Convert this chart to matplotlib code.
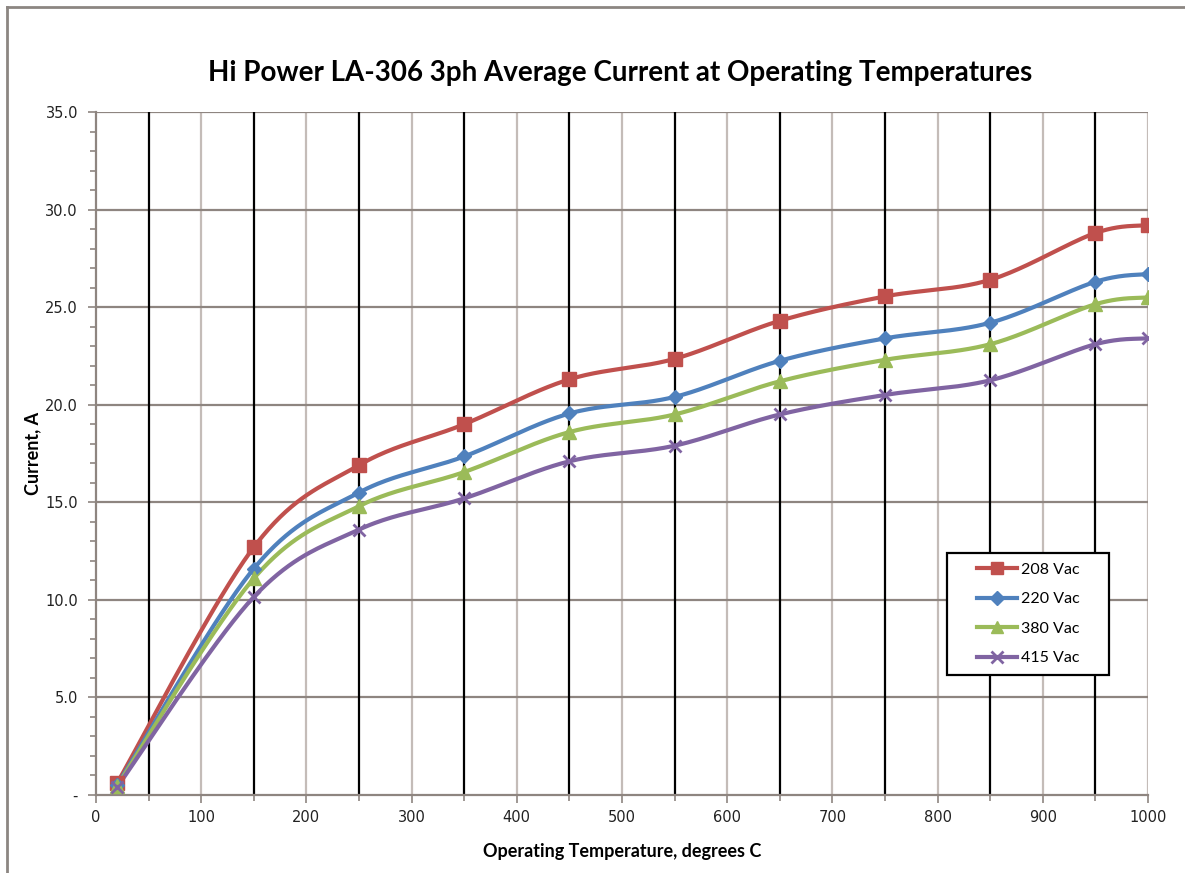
import numpy as np
import matplotlib
matplotlib.use("Agg")
import matplotlib.pyplot as plt
from matplotlib.lines import Line2D
from matplotlib.patches import Rectangle
from matplotlib.ticker import MultipleLocator, FuncFormatter

# Data
temps = [20, 150, 250, 350, 450, 550, 650, 750, 850, 950, 1000]
vac_208 = [0.6, 12.7, 16.9, 19.0, 21.3, 22.35, 24.3, 25.55, 26.4, 28.8, 29.2]
vac_220 = [0.5, 11.6, 15.5, 17.35, 19.55, 20.4, 22.25, 23.4, 24.2, 26.3, 26.7]
vac_380 = [0.45, 11.1, 14.8, 16.55, 18.6, 19.5, 21.2, 22.3, 23.1, 25.15, 25.5]
vac_415 = [0.4, 10.15, 13.6, 15.2, 17.1, 17.9, 19.5, 20.5, 21.25, 23.1, 23.4]
labels = ["208 Vac", "220 Vac", "380 Vac", "415 Vac"]
black_lines = [50, 150, 250, 350, 450, 550, 650, 750, 850, 950]


def smooth(xs, ys, n=40):
    # Excel-style smoothed line: Catmull-Rom as cubic Bezier segments
    p = np.column_stack([xs, ys]).astype(float)
    p = np.vstack([p[0], p, p[-1]])
    out = []
    t = np.linspace(0, 1, n)[:, None]
    for i in range(1, len(p) - 2):
        p0, p3 = p[i], p[i + 1]
        p1 = p0 + (p[i + 1] - p[i - 1]) / 6
        p2 = p3 - (p[i + 2] - p[i]) / 6
        seg = ((1 - t) ** 3) * p0 + 3 * ((1 - t) ** 2) * t * p1 + 3 * (1 - t) * t ** 2 * p2 + t ** 3 * p3
        out.append(seg)
    out = np.vstack(out)
    return out[:, 0], out[:, 1]


W, H = 1185, 873
fig = plt.figure(figsize=(W / 100, H / 100), dpi=100)
ax = fig.add_axes([96 / W, 1 - 795 / H, (1148 - 96) / W, (795 - 112) / H])

# outer chart border (top and left visible)
fig.add_artist(Line2D([7 / W, 7 / W], [0, 1 - 7 / H], color="#8c8682", lw=2.0))
fig.add_artist(Line2D([7 / W, 1], [1 - 7 / H, 1 - 7 / H], color="#8c8682", lw=2.0))

ax.set_xlim(0, 1000)
ax.set_ylim(0, 35)

for v in range(100, 1001, 100):
    ax.axvline(v, color="#c4bcb8", lw=1.6, zorder=1)
for v in range(5, 36, 5):
    ax.axhline(v, color="#8e8580", lw=1.6, zorder=1)
for v in black_lines:
    ax.axvline(v, color="black", lw=1.6, zorder=1.5)

series = [
    (vac_208, "#c0504d", "s", 9.5),
    (vac_220, "#4f81bd", "D", 7.5),
    (vac_380, "#9bbb59", "^", 9.5),
    (vac_415, "#8064a2", "x", 9),
]
handles = []
for (vals, col, mk, ms), lab in zip(series, labels):
    sx, sy = smooth(temps, vals)
    ax.plot(sx, sy, color=col, lw=3, zorder=3, solid_capstyle="round")
    ax.plot(temps, vals, linestyle="none", marker=mk, color=col, ms=ms,
            mew=2 if mk == "x" else 1, zorder=4)
    handles.append(Line2D([], [], color=col, lw=3, marker=mk, ms=ms * 0.9,
                          mew=2 if mk == "x" else 1))

for s in ["top", "right"]:
    ax.spines[s].set_visible(False)
for s in ["left", "bottom"]:
    ax.spines[s].set_color("#8e8580")
    ax.spines[s].set_linewidth(1.6)

ax.xaxis.set_major_locator(MultipleLocator(100))
ax.xaxis.set_minor_locator(MultipleLocator(50))
ax.yaxis.set_major_locator(MultipleLocator(5))
ax.yaxis.set_minor_locator(MultipleLocator(1))
ax.yaxis.set_major_formatter(FuncFormatter(lambda v, p: "-" if v == 0 else f"{v:.1f}"))
ax.tick_params(axis="both", which="both", direction="out", color="#8e8580", width=1.2,
               labelsize=10.5, labelcolor="#222222")
ax.tick_params(axis="both", which="major", length=6, pad=7)
ax.tick_params(axis="x", which="major", pad=5)
ax.tick_params(axis="both", which="minor", length=4)

bold_font = ["Lato", "DejaVu Sans"]
fig.text(0.5 * (215 + 1025) / W, 1 - 73 / H,
         "Hi Power LA-306 3ph Average Current at Operating Temperatures",
         ha="center", va="center", fontsize=20, fontweight="bold", family=bold_font)
fig.text(622 / W, 1 - 852 / H, "Operating Temperature, degrees C",
         ha="center", va="center", fontsize=13, fontweight="bold", family=bold_font)
fig.text(33 / W, 1 - 453 / H, "Current, A", rotation=90,
         ha="center", va="center", fontsize=13, fontweight="bold", family=bold_font)

# legend box drawn separately so the padding matches the reference
box = Rectangle((947 / W, 1 - 675 / H), (1109 - 947) / W, (675 - 553) / H,
                transform=fig.transFigure, facecolor="white", edgecolor="black",
                lw=1.6, zorder=5)
fig.add_artist(box)
leg = fig.legend(handles, labels, loc="center",
                 bbox_to_anchor=((947 + 1109) / 2 / W, 1 - 614 / H),
                 frameon=False, handlelength=2.5, handletextpad=0.25,
                 labelspacing=0.95, borderpad=0, prop={"family": "Lato", "size": 11.5})
leg.set_zorder(6)

fig.savefig("out.png", dpi=100)
